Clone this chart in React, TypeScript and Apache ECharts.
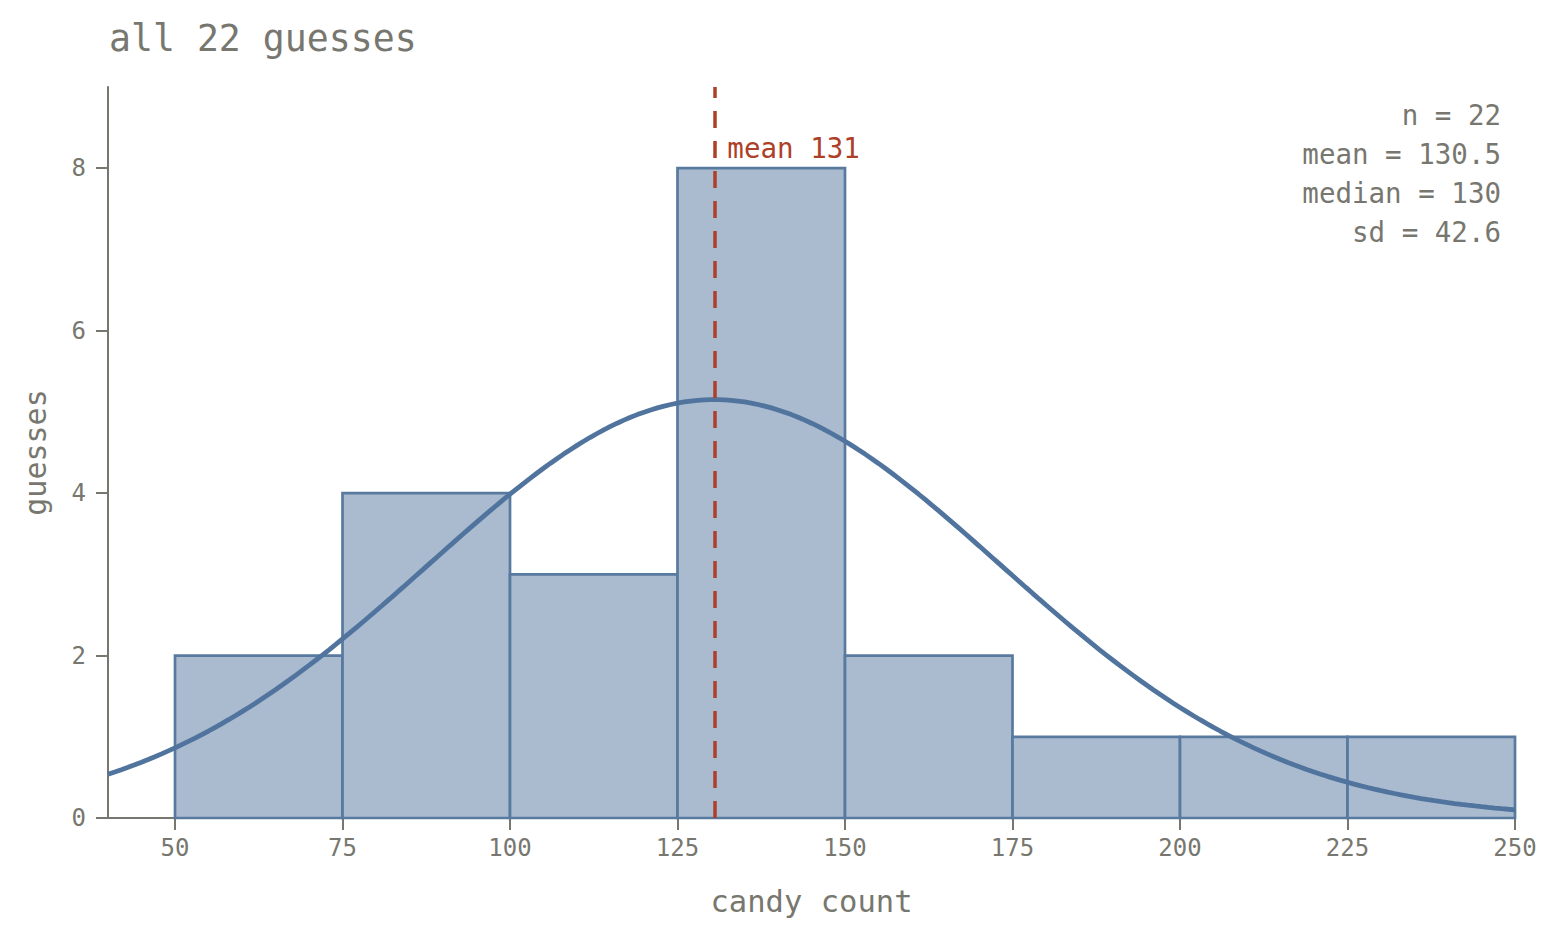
import React, { useEffect, useRef } from "react";
import * as echarts from "echarts";

// Histogram bins (left edge) and guess counts per 25-wide bin
const binStarts = [50, 75, 100, 125, 150, 175, 200, 225];
const binCounts = [2, 4, 3, 8, 2, 1, 1, 1];
const binWidth = 25;

// Summary statistics of the 22 guesses
const nGuesses = 22;
const meanGuess = 130.5;
const medianGuess = 130;
const sdGuess = 42.6;

const xTicks = [50, 75, 100, 125, 150, 175, 200, 225, 250];
const yTicks = [0, 2, 4, 6, 8];

const FONT = "'DejaVu Sans Mono', monospace";
const GREY = "#77776f";
const BAR_FILL = "#aabbd0";
const BAR_EDGE = "#587a9f";
const CURVE = "#50749d";
const MEAN_RED = "#ad4028";

// Normal density scaled to counts (n * bin width), sampled across the x range
function normalCurve(): number[][] {
  const pts: number[][] = [];
  const scale = (nGuesses * binWidth) / (sdGuess * Math.sqrt(2 * Math.PI));
  for (let x = 40; x <= 250; x += 1) {
    const z = (x - meanGuess) / sdGuess;
    pts.push([x, scale * Math.exp(-0.5 * z * z)]);
  }
  return pts;
}

const statLines = [
  `n = ${nGuesses}`,
  `mean = ${meanGuess.toFixed(1)}`,
  `median = ${medianGuess}`,
  `sd = ${sdGuess.toFixed(1)}`,
];

export default function App() {
  const ref = useRef<HTMLDivElement>(null);

  useEffect(() => {
    document.body.style.margin = "0";
    const chart = echarts.init(ref.current!, undefined, { renderer: "svg" });

    const barData = binStarts.map((s, i) => [s, s + binWidth, binCounts[i]]);

    chart.setOption({
      animation: false,
      backgroundColor: "#ffffff",
      title: {
        text: "all 22 guesses",
        left: 104,
        top: 15,
        textStyle: { fontFamily: FONT, fontSize: 36.5, fontWeight: "normal", color: GREY },
      },
      grid: { left: 108, right: 45, top: 87, bottom: 121, containLabel: false },
      xAxis: {
        type: "value",
        min: 40,
        max: 250,
        name: "candy count",
        nameLocation: "middle",
        nameGap: 68,
        nameTextStyle: { fontFamily: FONT, fontSize: 30.5, color: GREY },
        axisLine: { lineStyle: { color: GREY, width: 2 } },
        axisTick: { show: true, length: 12, lineStyle: { color: GREY, width: 2 }, customValues: xTicks },
        axisLabel: { fontFamily: FONT, fontSize: 24, color: GREY, margin: 18, customValues: xTicks },
        splitLine: { show: false },
      },
      yAxis: {
        type: "value",
        min: 0,
        max: 9,
        name: "guesses",
        nameLocation: "middle",
        nameGap: 58,
        nameTextStyle: { fontFamily: FONT, fontSize: 30, color: GREY },
        axisLine: { show: true, lineStyle: { color: GREY, width: 2 } },
        axisTick: { show: true, length: 12, lineStyle: { color: GREY, width: 2 }, customValues: yTicks },
        axisLabel: { fontFamily: FONT, fontSize: 24, color: GREY, margin: 22, customValues: yTicks },
        splitLine: { show: false },
      },
      series: [
        {
          type: "custom",
          name: "bins",
          data: barData,
          encode: { x: [0, 1], y: 2 },
          z: 2,
          renderItem: (_params: any, api: any) => {
            const p0 = api.coord([api.value(0), api.value(2)]);
            const p1 = api.coord([api.value(1), 0]);
            return {
              type: "rect",
              shape: { x: p0[0], y: p0[1], width: p1[0] - p0[0], height: p1[1] - p0[1] },
              style: { fill: BAR_FILL, stroke: BAR_EDGE, lineWidth: 2.7 },
            };
          },
        },
        {
          type: "line",
          name: "normal",
          data: normalCurve(),
          showSymbol: false,
          smooth: false,
          z: 3,
          lineStyle: { color: CURVE, width: 4.8 },
          markLine: {
            silent: true,
            symbol: "none",
            label: { show: false },
            lineStyle: { color: MEAN_RED, width: 3.5, type: [17, 13] },
            data: [[{ coord: [meanGuess, 0] }, { coord: [meanGuess, 9] }]],
          },
        },
        {
          type: "scatter",
          name: "meanLabel",
          data: [[meanGuess, 8.25]],
          symbolSize: 0,
          z: 4,
          itemStyle: { opacity: 1 },
          label: {
            show: true,
            position: "right",
            distance: 13,
            formatter: "mean " + Math.round(meanGuess),
            fontFamily: FONT,
            fontSize: 27.5,
            color: MEAN_RED,
            opacity: 1,
          },
        },
      ],
      graphic: statLines.map((line, i) => ({
        type: "text",
        right: 59,
        top: 101 + 39 * i,
        style: {
          text: line,
          fontFamily: FONT,
          fontSize: 27.5,
          fill: GREY,
        },
      })),
    });

    return () => chart.dispose();
  }, []);

  return (
    <div
      ref={ref}
      style={{ position: "fixed", left: 0, top: 0, width: 1560, height: 939 }}
    />
  );
}
